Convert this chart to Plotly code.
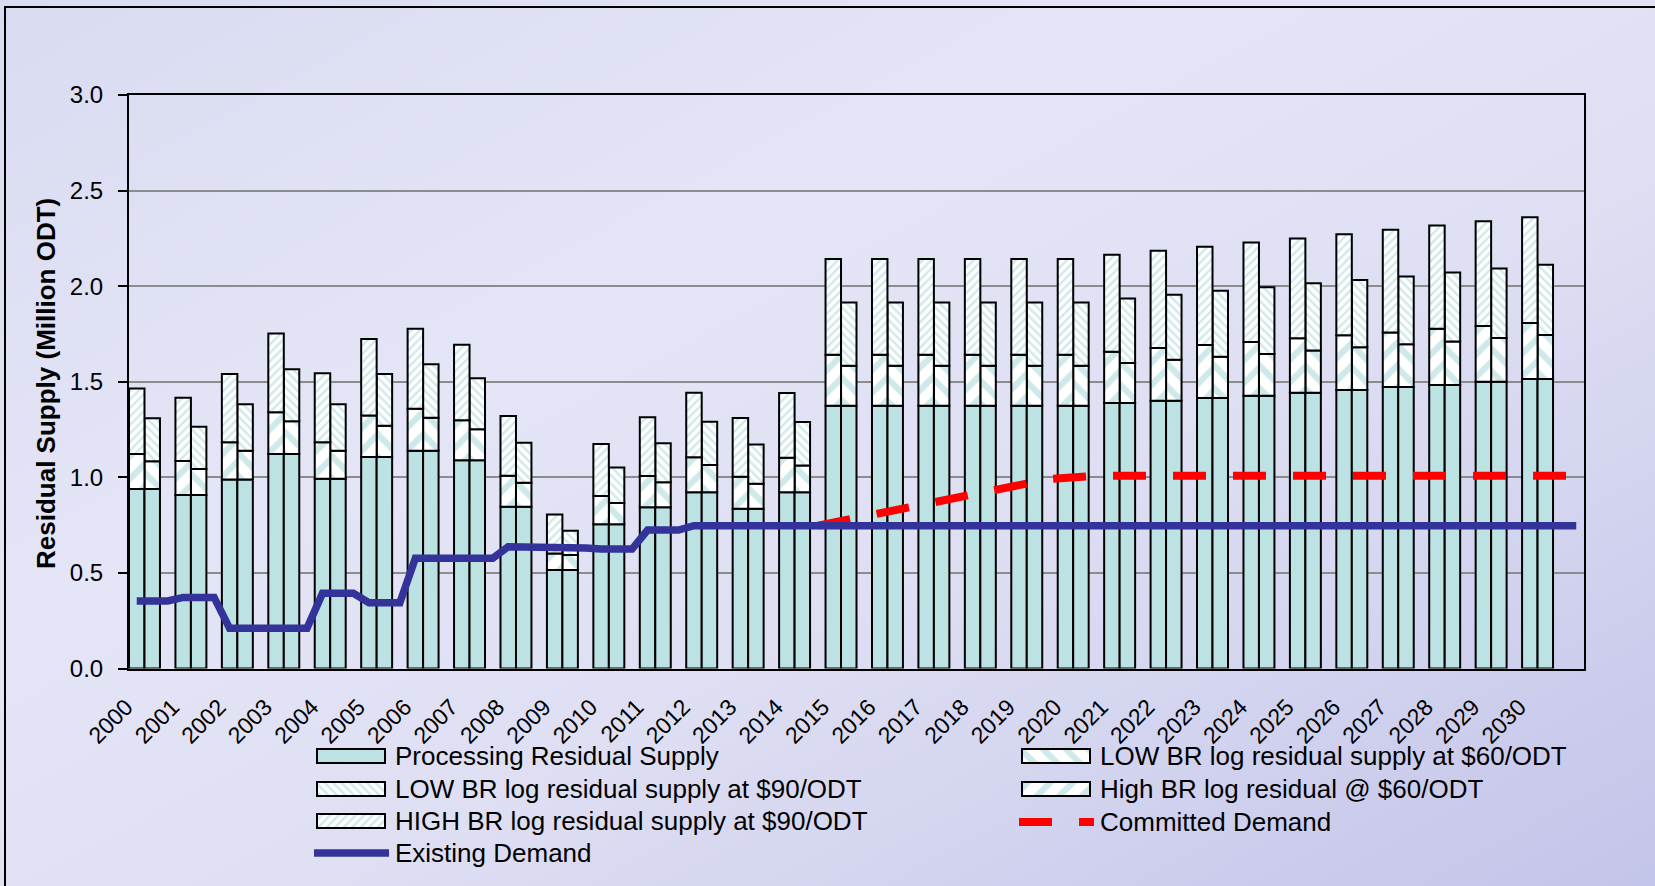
import base64
import plotly.graph_objects as go

# ---------------- data ----------------
years = list(range(2000, 2031))

processing = [0.939, 0.907, 0.989, 1.122, 0.993, 1.106, 1.139, 1.089, 0.846, 0.515,
              0.754, 0.843, 0.922, 0.836, 0.922, 1.375, 1.375, 1.375, 1.375, 1.375,
              1.375, 1.389, 1.401, 1.415, 1.427, 1.443, 1.457, 1.472, 1.483, 1.500, 1.514]

low60 = [0.145, 0.136, 0.150, 0.172, 0.146, 0.164, 0.173, 0.162, 0.126, 0.079,
         0.112, 0.131, 0.142, 0.131, 0.140, 0.209, 0.209, 0.209, 0.209, 0.209,
         0.209, 0.209, 0.214, 0.216, 0.218, 0.221, 0.223, 0.224, 0.228, 0.229, 0.230]

low90 = [0.225, 0.222, 0.243, 0.272, 0.243, 0.270, 0.279, 0.267, 0.209, 0.127,
         0.186, 0.204, 0.227, 0.205, 0.227, 0.331, 0.331, 0.331, 0.331, 0.331,
         0.331, 0.338, 0.340, 0.345, 0.349, 0.351, 0.352, 0.355, 0.361, 0.364, 0.368]

high60 = [0.183, 0.178, 0.194, 0.219, 0.190, 0.218, 0.220, 0.209, 0.162, 0.087,
          0.148, 0.164, 0.183, 0.167, 0.181, 0.266, 0.266, 0.266, 0.266, 0.266,
          0.266, 0.268, 0.275, 0.277, 0.281, 0.284, 0.286, 0.286, 0.294, 0.291, 0.293]

high90 = [0.343, 0.331, 0.357, 0.412, 0.361, 0.399, 0.418, 0.396, 0.313, 0.204,
          0.272, 0.307, 0.337, 0.307, 0.338, 0.501, 0.501, 0.501, 0.501, 0.501,
          0.501, 0.507, 0.509, 0.514, 0.521, 0.523, 0.529, 0.537, 0.541, 0.548, 0.554]

existing_demand = [0.353, 0.372, 0.210, 0.210, 0.393, 0.344, 0.577, 0.577, 0.637, 0.630,
                   0.625, 0.724, 0.747, 0.747, 0.747, 0.747, 0.747, 0.747, 0.747, 0.747,
                   0.747, 0.747, 0.747, 0.747, 0.747, 0.747, 0.747, 0.747, 0.747, 0.747, 0.747]

committed_years = list(range(2014, 2031))
committed_demand = [0.747, 0.796, 0.845, 0.894, 0.943, 0.992, 1.008, 1.008, 1.008, 1.008,
                    1.008, 1.008, 1.008, 1.008, 1.008, 1.008, 1.008]

tick_labels = [str(y) for y in years]
y_title = "Residual Supply (Million ODT)"

NAME_PROC = "Processing Residual Supply"
NAME_L60 = "LOW BR log residual supply at $60/ODT"
NAME_L90 = "LOW BR log residual supply at $90/ODT"
NAME_H60 = "High BR log residual @ $60/ODT"
NAME_H90 = "HIGH BR log residual supply at $90/ODT"
NAME_COMM = "Committed Demand"
NAME_EXIST = "Existing Demand"

# ---------------- positions: 3 slots per year (HIGH bar, LOW bar, gap) + 1 end slot ----------------
SLOTS = 3
n = len(years)
N_SLOTS = SLOTS * n + 1
x_high = [SLOTS * i for i in range(n)]
x_low = [SLOTS * i + 1 for i in range(n)]

base_l90 = [p + a for p, a in zip(processing, low60)]
base_h90 = [p + a for p, a in zip(processing, high60)]

x_exist, y_exist = [], []
for i, v in enumerate(existing_demand):
    x_exist += [SLOTS * i, SLOTS * i + 2]
    y_exist += [v, v]
x_exist.append(N_SLOTS - 1)
y_exist.append(existing_demand[-1])

x_comm = [SLOTS * (yr - years[0]) + 2 for yr in committed_years] + [N_SLOTS - 1]
y_comm = committed_demand + [committed_demand[-1]]

# ---------------- style ----------------
W, H = 1655, 886
PL, PR, PT, PB = 129, 1584, 95, 668.5          # plot-area box in pixels
TEAL = "#bde2e3"
PAT = "#9fd3d5"
FONT = "Liberation Sans, Arial, sans-serif"
edge = dict(color="black", width=2)
STYLES = {
    NAME_PROC: dict(color=TEAL, line=edge),
    NAME_L60: dict(color="white", line=edge,
                   pattern=dict(shape="\\", fgcolor=PAT, bgcolor="white", size=16, solidity=0.4)),
    NAME_L90: dict(color="white", line=edge,
                   pattern=dict(shape="\\", fgcolor=PAT, bgcolor="white", size=6, solidity=0.4)),
    NAME_H60: dict(color="white", line=edge,
                   pattern=dict(shape="/", fgcolor=PAT, bgcolor="white", size=16, solidity=0.4)),
    NAME_H90: dict(color="white", line=edge,
                   pattern=dict(shape="/", fgcolor=PAT, bgcolor="white", size=6, solidity=0.4)),
}
RED = dict(color="#ff0000", width=8, dash="33px,27px")
BLUE = dict(color="#333399", width=7.5)

fig = go.Figure()

# ---------------- main chart (x / y) ----------------
fig.add_trace(go.Bar(name=NAME_PROC, x=x_high + x_low, y=processing + processing,
                     base=[0] * (2 * n), width=1, marker=STYLES[NAME_PROC]))
fig.add_trace(go.Bar(name=NAME_L60, x=x_low, y=low60, base=processing, width=1,
                     marker=STYLES[NAME_L60]))
fig.add_trace(go.Bar(name=NAME_L90, x=x_low, y=low90, base=base_l90, width=1,
                     marker=STYLES[NAME_L90]))
fig.add_trace(go.Bar(name=NAME_H60, x=x_high, y=high60, base=processing, width=1,
                     marker=STYLES[NAME_H60]))
fig.add_trace(go.Bar(name=NAME_H90, x=x_high, y=high90, base=base_h90, width=1,
                     marker=STYLES[NAME_H90]))
fig.add_trace(go.Scatter(name=NAME_COMM, x=x_comm, y=y_comm, mode="lines", line=RED))
fig.add_trace(go.Scatter(name=NAME_EXIST, x=x_exist, y=y_exist, mode="lines", line=BLUE))

# ---------------- custom legend on a full-figure pixel overlay (x2 / y2) ----------------
SW_W, SW_H = 68, 14
legend_items = [  # (name, swatch-left px, row-centre px, kind)
    (NAME_PROC, 317, 756, "bar"),
    (NAME_L90, 317, 789, "bar"),
    (NAME_H90, 317, 821, "bar"),
    (NAME_EXIST, 317, 853, "line"),
    (NAME_L60, 1022, 756, "bar"),
    (NAME_H60, 1022, 789, "bar"),
    (NAME_COMM, 1022, 822, "line"),
]
annotations = []
for name, lx, cy, kind in legend_items:
    if kind == "bar":
        fig.add_trace(go.Bar(x=[SW_W], y=[cy], base=[lx], width=SW_H, orientation="h",
                             marker=STYLES[name], xaxis="x2", yaxis="y2", hoverinfo="skip"))
    else:
        style = BLUE if name == NAME_EXIST else RED
        fig.add_trace(go.Scatter(x=[lx - 3, lx + 72], y=[cy, cy], mode="lines", line=style,
                                 xaxis="x2", yaxis="y2", hoverinfo="skip"))
    annotations.append(dict(text=name, xref="paper", yref="paper",
                            x=(lx + 76) / W, y=1 - cy / H, xanchor="left", yanchor="middle",
                            showarrow=False, font=dict(size=26, family=FONT, color="black")))

annotations.append(dict(
    text="<b>" + y_title + "</b>", textangle=-90,
    xref="paper", yref="paper", x=46 / W, y=1 - 384 / H,
    xanchor="center", yanchor="middle", showarrow=False,
    font=dict(size=26, family=FONT, color="black")))

# soft lavender gradient background as an inline SVG image
svg = (
    '<svg xmlns="http://www.w3.org/2000/svg" width="1655" height="886">'
    '<defs><linearGradient id="g" x1="0" y1="0" x2="1" y2="1">'
    '<stop offset="0" stop-color="#d9dbf1"/>'
    '<stop offset="0.35" stop-color="#e4e5f6"/>'
    '<stop offset="0.6" stop-color="#dedff3"/>'
    '<stop offset="1" stop-color="#c3c4e9"/>'
    '</linearGradient></defs>'
    '<rect width="1655" height="886" fill="url(#g)"/></svg>'
)
bg_src = "data:image/svg+xml;base64," + base64.b64encode(svg.encode()).decode()

fig.update_layout(
    width=W, height=H,
    margin=dict(l=0, r=0, t=0, b=0, pad=0, autoexpand=False),
    barmode="overlay",
    paper_bgcolor="#dfe0f3",
    plot_bgcolor="rgba(0,0,0,0)",
    font=dict(family=FONT, color="black"),
    showlegend=False,
    xaxis=dict(
        domain=[PL / W, PR / W], anchor="y",
        range=[-0.5, N_SLOTS - 0.5], tickmode="array",
        tickvals=[SLOTS * i + 1 for i in range(n)], ticktext=tick_labels,
        tickangle=-45, tickfont=dict(size=23, family=FONT),
        ticklabelshift=-26, ticklabelstandoff=14,
        showgrid=False, zeroline=False, ticks="",
        showline=True, linecolor="black", linewidth=2, mirror=True, fixedrange=True,
    ),
    yaxis=dict(
        domain=[1 - PB / H, 1 - PT / H], anchor="x",
        range=[0, 3], dtick=0.5, tickformat=".1f",
        tickfont=dict(size=24, family=FONT), ticklabelstandoff=10,
        showgrid=True, gridcolor="#8c8c8c", gridwidth=2, zeroline=False,
        ticks="outside", ticklen=9, tickwidth=2, tickcolor="black",
        showline=True, linecolor="black", linewidth=2, mirror=True, fixedrange=True,
    ),
    xaxis2=dict(domain=[0, 1], range=[0, W], anchor="y2", visible=False, fixedrange=True),
    yaxis2=dict(domain=[0, 1], range=[H, 0], anchor="x2", visible=False, fixedrange=True),
    annotations=annotations,
    images=[dict(source=bg_src, xref="paper", yref="paper", x=0, y=1, sizex=1, sizey=1,
                 xanchor="left", yanchor="top", sizing="stretch", layer="below")],
    shapes=[dict(type="rect", xref="paper", yref="paper",
                 x0=5 / W, x1=1.05, y0=-0.05, y1=1 - 7 / H,
                 line=dict(color="black", width=2), fillcolor="rgba(0,0,0,0)",
                 layer="below")],
)

fig.write_html("out.html")
